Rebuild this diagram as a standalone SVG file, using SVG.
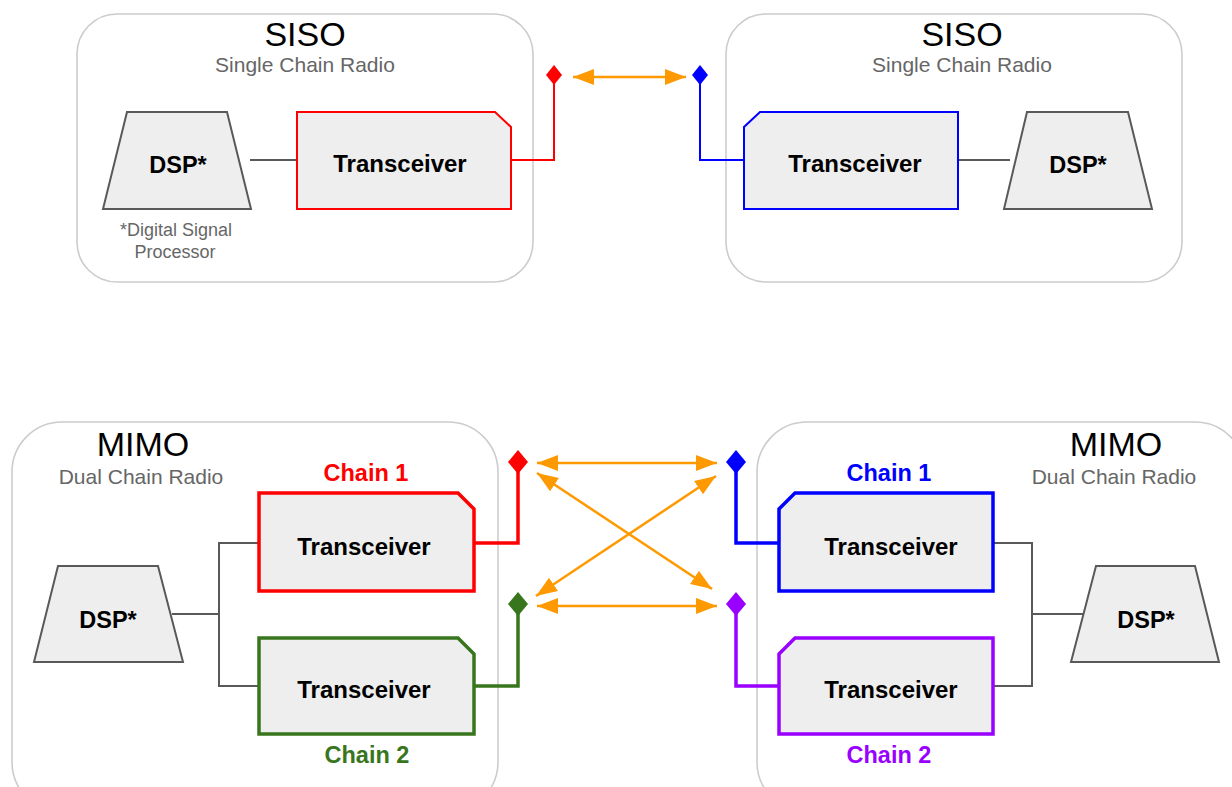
<svg xmlns="http://www.w3.org/2000/svg" width="1232" height="787" viewBox="0 0 1232 787">
<style>
.bg{fill:#fff}
.cont{fill:#fff;stroke:#cccccc;stroke-width:1.6}
.title{font-family:"Liberation Sans",Arial,sans-serif;font-size:34px;fill:#000;text-anchor:middle}
.sub{font-family:"Liberation Sans",Arial,sans-serif;font-size:21px;fill:#666;text-anchor:middle}
.note{font-family:"Liberation Sans",Arial,sans-serif;font-size:18px;fill:#666;text-anchor:middle}
.dsp{fill:#eeeeee;stroke:#595959;stroke-width:2}
.lbl{font-family:"Liberation Sans",Arial,sans-serif;font-size:23.5px;font-weight:bold;fill:#000;text-anchor:middle}
.tx{font-family:"Liberation Sans",Arial,sans-serif;font-size:24px;font-weight:bold;fill:#000;text-anchor:middle}
.chain{font-family:"Liberation Sans",Arial,sans-serif;font-size:23.5px;font-weight:bold;text-anchor:middle}
.gline{fill:none;stroke:#595959;stroke-width:2}
.arrow{fill:none;stroke:#ff9900;stroke-width:2.5;marker-start:url(#ah);marker-end:url(#ah)}
</style>
<defs>
<marker id="ah" markerUnits="userSpaceOnUse" markerWidth="22" markerHeight="18" refX="21" refY="8" orient="auto-start-reverse" viewBox="0 0 22 16">
<path d="M0,0 L21,8 L0,16 z" fill="#ff9900"/>
</marker>
</defs>
<rect class="bg" x="0" y="0" width="1232" height="787"/>

<!-- Containers -->
<g id="siso-left">
<rect class="cont" x="77" y="14" width="456" height="268" rx="40"/>
<text class="title" x="305" y="46">SISO</text>
<text class="sub" x="305" y="72">Single Chain Radio</text>
</g>
<g id="siso-right">
<rect class="cont" x="726" y="14" width="456" height="268" rx="40"/>
<text class="title" x="962" y="46">SISO</text>
<text class="sub" x="962" y="72">Single Chain Radio</text>
</g>
<g id="mimo-left">
<rect class="cont" x="12" y="422" width="486" height="390" rx="50"/>
<text class="title" x="143" y="456">MIMO</text>
<text class="sub" x="141" y="484">Dual Chain Radio</text>
</g>
<g id="mimo-right">
<rect class="cont" x="757" y="422" width="488" height="390" rx="50"/>
<text class="title" x="1116" y="456">MIMO</text>
<text class="sub" x="1114" y="484">Dual Chain Radio</text>
</g>

<!-- Connectors -->
<g id="connectors">
<path class="gline" d="M250,160 H297"/>
<path class="gline" d="M958,160 H1010"/>
<path class="gline" d="M172,614 H219 M259,543 H219 V686 H259"/>
<path class="gline" d="M1083,614 H1032 M993,543 H1032 V686 H993"/>
<path d="M511,160 H554 V80" fill="none" stroke="#ff0000" stroke-width="2"/>
<path d="M745,160 H700 V80" fill="none" stroke="#0000ff" stroke-width="2"/>
<path d="M474,543 H518 V466" fill="none" stroke="#ff0000" stroke-width="3.5"/>
<path d="M474,686 H518 V608" fill="none" stroke="#38761d" stroke-width="3.5"/>
<path d="M779,543 H736 V466" fill="none" stroke="#0000ff" stroke-width="3.5"/>
<path d="M779,686 H736 V608" fill="none" stroke="#9900ff" stroke-width="3.5"/>
<polygon points="554,65 562,75 554,85 546,75" fill="#ff0000"/>
<polygon points="700,65 708,75 700,85 692,75" fill="#0000ff"/>
<polygon points="518,450 528,462 518,474 508,462" fill="#ff0000"/>
<polygon points="518,592 528,604 518,616 508,604" fill="#38761d"/>
<polygon points="736,450 746,462 736,474 726,462" fill="#0000ff"/>
<polygon points="736,592 746,604 736,616 726,604" fill="#9900ff"/>
<line class="arrow" x1="573" y1="77" x2="686" y2="77"/>
<line class="arrow" x1="537" y1="463" x2="717" y2="463"/>
<line class="arrow" x1="537" y1="606" x2="717" y2="606"/>
<line class="arrow" x1="537" y1="473" x2="712" y2="589"/>
<line class="arrow" x1="716" y1="476" x2="536" y2="596"/>
</g>

<!-- SISO left nodes -->
<g id="dsp-siso-left">
<polygon class="dsp" points="127,112 227,112 251,209 103,209"/>
<text class="lbl" x="178" y="173">DSP*</text>
</g>
<g id="dsp-note">
<text class="note" x="176" y="236">*Digital Signal</text>
<text class="note" x="175" y="258">Processor</text>
</g>
<g id="tx-siso-left">
<path d="M297,112 H495 L511,127 V209 H297 Z" fill="#eeeeee" stroke="#ff0000" stroke-width="2"/>
<text class="tx" x="400" y="172">Transceiver</text>
</g>

<!-- SISO right nodes -->
<g id="tx-siso-right">
<path d="M760,112 H958 V209 H744 V127 Z" fill="#eeeeee" stroke="#0000ff" stroke-width="2"/>
<text class="tx" x="855" y="172">Transceiver</text>
</g>
<g id="dsp-siso-right">
<polygon class="dsp" points="1027,112 1128,112 1152,209 1004,209"/>
<text class="lbl" x="1078" y="173">DSP*</text>
</g>

<!-- MIMO left nodes -->
<g id="dsp-mimo-left">
<polygon class="dsp" points="58,566 158,566 183,662 34,662"/>
<text class="lbl" x="108" y="628">DSP*</text>
</g>
<g id="tx-mimo-left-1">
<text class="chain" x="366" y="481" fill="#ff0000">Chain 1</text>
<path d="M259,493 H458 L474,509 V591 H259 Z" fill="#eeeeee" stroke="#ff0000" stroke-width="3.5"/>
<text class="tx" x="364" y="555">Transceiver</text>
</g>
<g id="tx-mimo-left-2">
<path d="M259,638 H458 L474,654 V734 H259 Z" fill="#eeeeee" stroke="#38761d" stroke-width="3.5"/>
<text class="tx" x="364" y="698">Transceiver</text>
<text class="chain" x="367" y="763" fill="#38761d">Chain 2</text>
</g>

<!-- MIMO right nodes -->
<g id="tx-mimo-right-1">
<text class="chain" x="889" y="481" fill="#0000ff">Chain 1</text>
<path d="M795,493 H993 V591 H779 V509 Z" fill="#eeeeee" stroke="#0000ff" stroke-width="3.5"/>
<text class="tx" x="891" y="555">Transceiver</text>
</g>
<g id="tx-mimo-right-2">
<path d="M795,638 H993 V734 H779 V654 Z" fill="#eeeeee" stroke="#9900ff" stroke-width="3.5"/>
<text class="tx" x="891" y="698">Transceiver</text>
<text class="chain" x="889" y="763" fill="#9900ff">Chain 2</text>
</g>
<g id="dsp-mimo-right">
<polygon class="dsp" points="1096,566 1195,566 1219,662 1071,662"/>
<text class="lbl" x="1146" y="628">DSP*</text>
</g>
</svg>
